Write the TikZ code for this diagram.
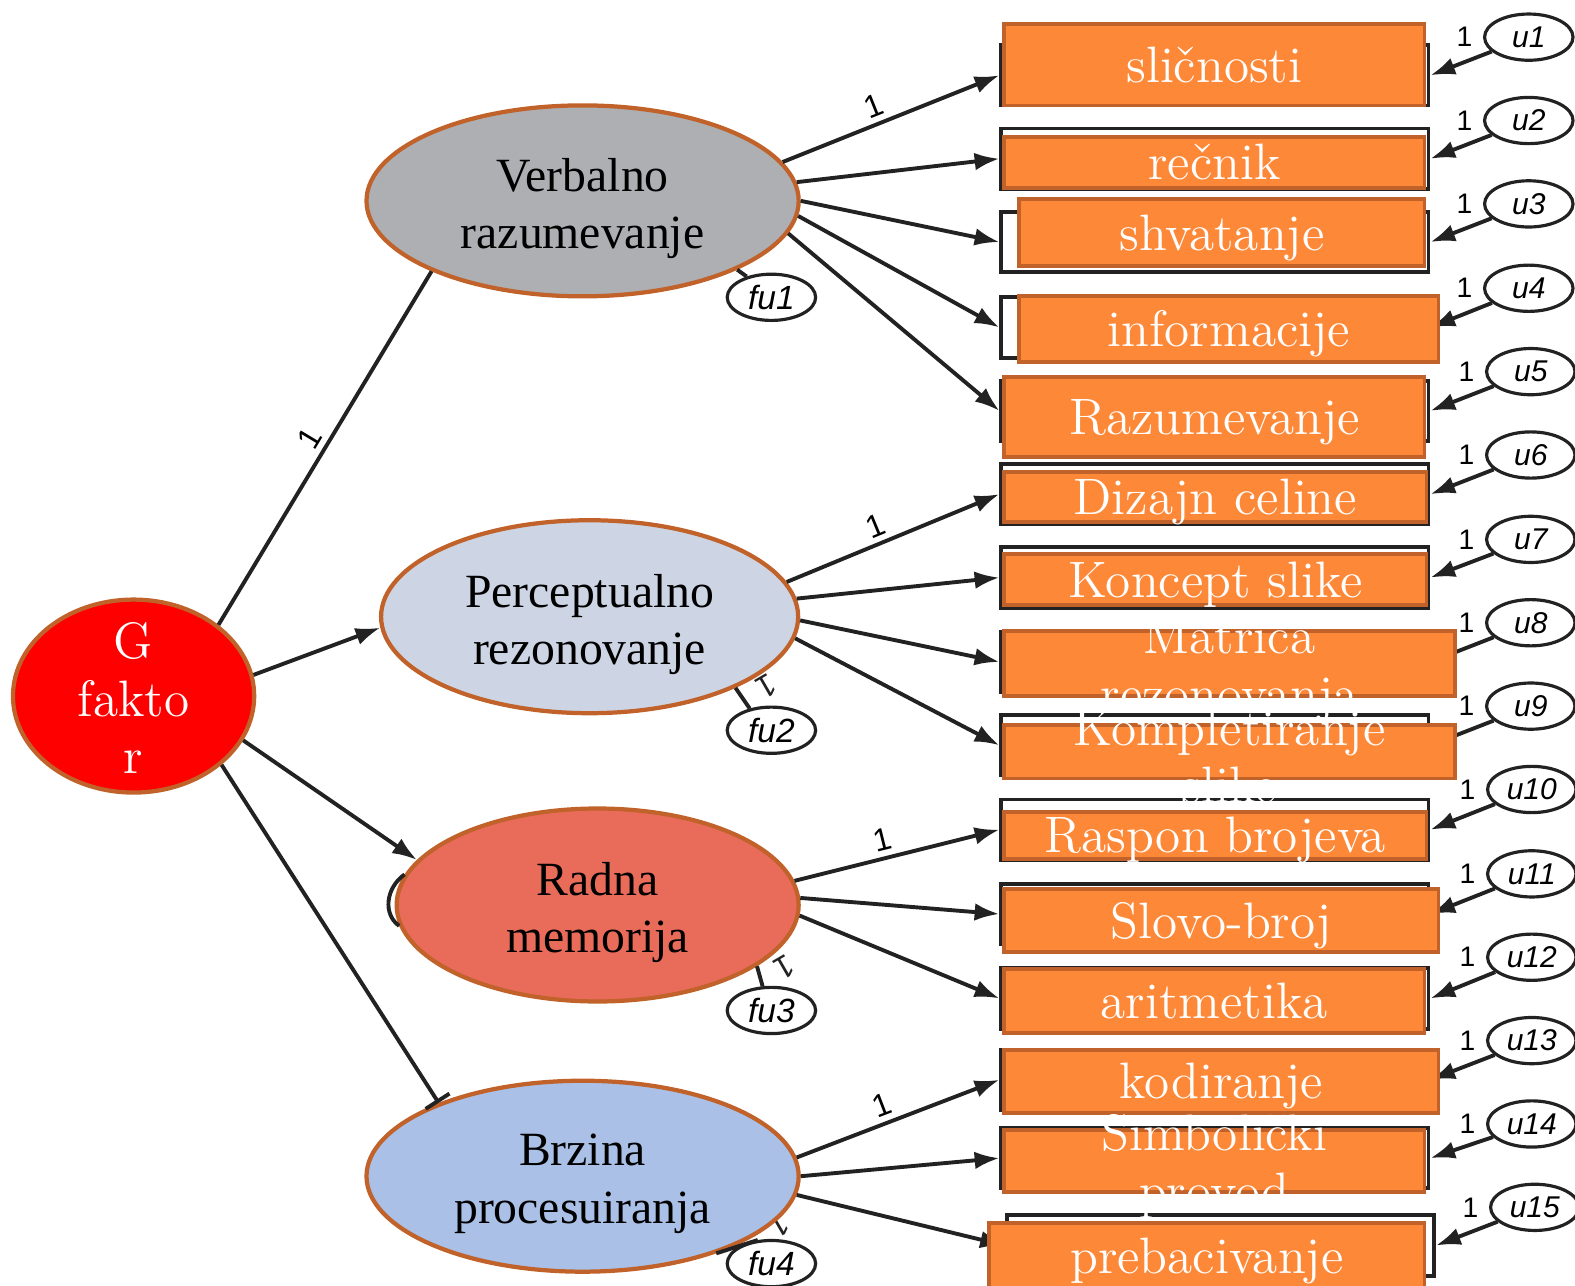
\documentclass[tikz,border=0pt]{standalone}
\usepackage{fontspec}
\usetikzlibrary{shapes.geometric, arrows.meta}
\newfontfamily\amosfont{Liberation Sans}
\newfontfamily\timesfont{Liberation Serif}
\definecolor{rim}{HTML}{C0622A}
\definecolor{boxorange}{HTML}{FD8838}
\definecolor{vrgray}{HTML}{ADAFB2}
\definecolor{prblue}{HTML}{CDD5E4}
\definecolor{rmred}{HTML}{E96C5A}
\definecolor{bpblue}{HTML}{AAC0E6}
\definecolor{amosblack}{HTML}{222222}
\tikzset{
    latent/.style={ellipse, draw=rim, line width=1.2pt, inner sep=0pt},
    lattext/.style={align=center, inner sep=0pt, yshift=-0.075cm, font=\timesfont\fontsize{13.5}{16.2}\selectfont},
    amosbox/.style={draw=amosblack, line width=1.1pt, minimum width=4.25cm, minimum height=0.6cm},
    obsbox/.style={draw=rim, line width=1.1pt, fill=boxorange, text=white, inner sep=0pt, text height=11.5pt, text depth=1.5pt, font=\fontsize{14.5}{16.3}\selectfont},
    boxtext/.style={text=white, align=center, inner sep=0pt, font=\fontsize{14.5}{16.3}\selectfont},
    errvar/.style={ellipse, draw=amosblack, line width=0.9pt, minimum width=0.88cm, minimum height=0.46cm, inner sep=0pt, font=\amosfont\itshape\fontsize{8.5}{9}\selectfont},
    uvar/.style={errvar, label={[font=\amosfont\fontsize{8}{9}\selectfont, label distance=-0.5pt]left:1}},
    amosline/.style={draw=amosblack, line width=1.1pt},
    loadarrow/.style={amosline, -{Latex[length=7pt, width=5pt]}},
    onelab/.style={font=\amosfont\fontsize{9}{10}\selectfont, sloped, above, inner sep=1.5pt, pos=0.45},
    fuone/.style={font=\amosfont\fontsize{9}{10}\selectfont, rotate=210, text=amosblack},
}

\begin{document}
\begin{tikzpicture}[x=0.01cm, y=-0.01cm]
    \useasboundingbox (0, 0) rectangle (1568, 1280);

    \node[amosbox] (o1) at (1209.5, 75){};
    \node[amosbox] (o2) at (1209.5, 158){};
    \node[amosbox] (o3) at (1209.5, 241){};
    \node[amosbox] (o4) at (1209.5, 326){};
    \node[amosbox] (o5) at (1209.5, 409){};
    \node[amosbox] (o6) at (1209.5, 492){};
    \node[amosbox] (o7) at (1209.5, 575){};
    \node[amosbox] (o8) at (1209.5, 659){};
    \node[amosbox] (o9) at (1209.5, 742){};
    \node[amosbox] (o10) at (1209.5, 826){};
    \node[amosbox] (o11) at (1209.5, 910){};
    \node[amosbox] (o12) at (1209.5, 994){};
    \node[amosbox] (o13) at (1209.5, 1075){};
    \node[amosbox] (o14) at (1209.5, 1153){};
    \node[amosbox] (o15) at (1215, 1240){};

    \node[uvar] (u1) at (1522, 37){u1};
    \node[uvar] (u2) at (1522, 120){u2};
    \node[uvar] (u3) at (1522, 203){u3};
    \node[uvar] (u4) at (1522, 287){u4};
    \node[uvar] (u5) at (1524, 370){u5};
    \node[uvar] (u6) at (1524, 453){u6};
    \node[uvar] (u7) at (1524, 537){u7};
    \node[uvar] (u8) at (1524, 620){u8};
    \node[uvar] (u9) at (1524, 703){u9};
    \node[uvar] (u10) at (1525, 786){u10};
    \node[uvar] (u11) at (1525, 870){u11};
    \node[uvar] (u12) at (1525, 953){u12};
    \node[uvar] (u13) at (1525, 1036){u13};
    \node[uvar] (u14) at (1525, 1119){u14};
    \node[uvar] (u15) at (1528, 1202){u15};

    \node[errvar, font=\amosfont\itshape\fontsize{9.5}{10}\selectfont] (fu1) at (768, 296){fu1};
    \node[errvar, font=\amosfont\itshape\fontsize{9.5}{10}\selectfont] (fu2) at (768, 727){fu2};
    \node[errvar, font=\amosfont\itshape\fontsize{9.5}{10}\selectfont] (fu3) at (768, 1006){fu3};
    \node[errvar, font=\amosfont\itshape\fontsize{9.5}{10}\selectfont] (fu4) at (768, 1258){fu4};
    \node[fuone] (one2) at (763, 683){1};
    \node[fuone] (one3) at (781, 963){1};
    \node[fuone] (one4) at (776, 1220){1};

    \node[ellipse, draw=rim, line width=1.2pt, fill=red, minimum width=2.40cm, minimum height=1.92cm, label={[boxtext, yshift=-0.02cm]center:{G\\fakto\\r}}] (G) at (133, 693){};
    \node[latent, fill=vrgray, minimum width=4.30cm, minimum height=1.90cm, label={[lattext]center:{Verbalno\\razumevanje}}] (VR) at (580, 200){};
    \node[latent, fill=prblue, minimum width=4.15cm, minimum height=1.92cm, label={[lattext]center:{Perceptualno\\rezonovanje}}] (PR) at (587, 614){};
    \node[latent, fill=rmred, minimum width=4.00cm, minimum height=1.92cm, label={[lattext]center:{Radna\\memorija}}] (RM) at (595, 901){};
    \node[latent, fill=bpblue, minimum width=4.30cm, minimum height=1.90cm, label={[lattext]center:{Brzina\\procesuiranja}}] (BP) at (580, 1171){};

    \draw[amosline] (G.40) -- node[onelab, pos=0.5] {1} (VR.205);
    \draw[loadarrow] (G.10) -- (PR.183);
    \draw[loadarrow] (G.-22) -- (RM.166);
    \draw[amosline, -{Bar[width=8pt]}] (G.-38) -- (BP.153);
    \draw[amosline] (RM.171) .. controls (384, 884) and (381, 910) .. (RM.186);

    \draw[amosline] (fu1.140) -- (VR.-24);
    \draw[amosline] (fu2.135) -- (PR.-26);
    \draw[amosline] (fu3.110) -- (RM.-21);
    \draw[amosline] (fu4.120) -- (BP.-30);

    \draw[loadarrow] (VR.11) -- node[onelab] {1} (o1.west);
    \draw[loadarrow] (VR.5) -- (o2.west);
    \draw[loadarrow] (VR.0) -- (o3.west);
    \draw[loadarrow] (VR.-4) -- (o4.west);
    \draw[loadarrow] (VR.-9) -- (o5.west);
    \draw[loadarrow] (PR.10) -- node[onelab] {1} (o6.west);
    \draw[loadarrow] (PR.5) -- (o7.west);
    \draw[loadarrow] (PR.-1) -- (o8.west);
    \draw[loadarrow] (PR.-6) -- (o9.west);
    \draw[loadarrow] (RM.7) -- node[onelab] {1} (o10.west);
    \draw[loadarrow] (RM.2) -- (o11.west);
    \draw[loadarrow] (RM.-3) -- (o12.west);
    \draw[loadarrow] (BP.5) -- node[onelab] {1} (o13.west);
    \draw[loadarrow] (BP.0) -- (o14.west);
    \draw[loadarrow] (BP.-5) -- (o15.west);

    \draw[loadarrow] (u1) -- (o1.east);
    \draw[loadarrow] (u2) -- (o2.east);
    \draw[loadarrow] (u3) -- (o3.east);
    \draw[loadarrow] (u4) -- (o4.east);
    \draw[loadarrow] (u5) -- (o5.east);
    \draw[loadarrow] (u6) -- (o6.east);
    \draw[loadarrow] (u7) -- (o7.east);
    \draw[loadarrow] (u8) -- (o8.east);
    \draw[loadarrow] (u9) -- (o9.east);
    \draw[loadarrow] (u10) -- (o10.east);
    \draw[loadarrow] (u11) -- (o11.east);
    \draw[loadarrow] (u12) -- (o12.east);
    \draw[loadarrow] (u13) -- (o13.east);
    \draw[loadarrow] (u14) -- (o14.east);
    \draw[loadarrow] (u15) -- (o15.east);

    \node[obsbox, minimum width=4.18cm, minimum height=0.81cm] (b1) at (1209, 64.5){sličnosti};
    \node[obsbox, minimum width=4.18cm, minimum height=0.51cm] (b2) at (1209, 161.5){rečnik};
    \node[obsbox, minimum width=4.03cm, minimum height=0.67cm] (b3) at (1216.5, 231.5){shvatanje};
    \node[obsbox, minimum width=4.17cm, minimum height=0.65cm] (b4) at (1223.5, 327.5){informacije};
    \node[obsbox, minimum width=4.18cm, minimum height=0.80cm] (b5) at (1209, 415){Razumevanje};
    \node[obsbox, minimum width=4.20cm, minimum height=0.50cm] (b6) at (1210, 495){Dizajn celine};
    \node[obsbox, minimum width=4.20cm, minimum height=0.50cm] (b7) at (1210, 577){Koncept slike};
    \node[obsbox, minimum width=4.48cm, minimum height=0.65cm, label={[boxtext, yshift=-0.07cm]center:{Matrica\\rezonovanja}}] (b8) at (1224, 660.5){};
    \node[obsbox, minimum width=4.48cm, minimum height=0.53cm, label={[boxtext, yshift=-0.045cm]center:{Kompletiranje\\slike}}] (b9) at (1224, 748.5){};
    \node[obsbox, minimum width=4.20cm, minimum height=0.47cm] (b10) at (1210, 831.5){Raspon brojeva};
    \node[obsbox, minimum width=4.32cm, minimum height=0.63cm] (b11) at (1216, 916.5){Slovo-broj};
    \node[obsbox, minimum width=4.18cm, minimum height=0.63cm] (b12) at (1209, 996.5){aritmetika};
    \node[obsbox, minimum width=4.32cm, minimum height=0.63cm] (b13) at (1216, 1076.5){kodiranje};
    \node[obsbox, minimum width=4.18cm, minimum height=0.62cm, label={[boxtext, yshift=-0.05cm]center:{Simbolički\\provod}}] (b14) at (1209, 1156){};
    \node[obsbox, minimum width=4.33cm, minimum height=0.64cm] (b15) at (1201.5, 1250){prebacivanje};
\end{tikzpicture}
\end{document}
